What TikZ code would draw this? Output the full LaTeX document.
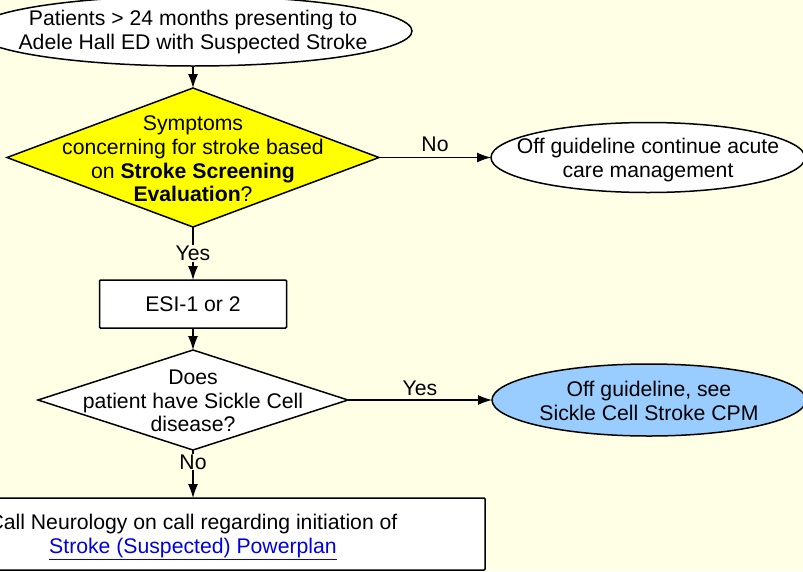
\documentclass[tikz,border=0pt]{standalone}
\usepackage{fontspec}
\setmainfont{Liberation Sans}
\usepackage{tikz}
\usetikzlibrary{positioning}
\usetikzlibrary{shapes.geometric}
\usetikzlibrary{arrows.meta}
\definecolor{paper}{RGB}{255,255,230}
\definecolor{alertYellow}{RGB}{255,255,0}
\definecolor{offBlue}{RGB}{153,204,255}
\definecolor{linkBlue}{RGB}{0,0,230}
\tikzstyle{txt} = [align=center, font=\fontsize{21.2}{23.7}\selectfont, inner sep=0pt]
\tikzstyle{terminal} = [ellipse, draw, line width=1.5pt, fill=white, outer sep=0pt]
\tikzstyle{decision} = [diamond, draw, line width=1.5pt, fill=white, outer sep=0pt]
\tikzstyle{process} = [rectangle, rounded corners=1pt, draw, line width=1.5pt, fill=white, outer sep=0pt, txt]
\tikzstyle{flow} = [-{Latex[length=14pt,width=10pt]}, line width=1.2pt]

\begin{document}
\begin{tikzpicture}[x=1pt, y=-1pt, node distance=22pt]
    \useasboundingbox (0,0) rectangle (803,571);
    \clip (0,0) rectangle (803,571);
    \fill[paper] (0,0) rectangle (803,571);
    \node (start) at (193,31) [terminal, minimum width=438pt, minimum height=70pt] {};
    \node (startTxt) at ([yshift=-1pt]start) [txt] {Patients > 24 months presenting to\\Adele Hall ED with Suspected Stroke};
    \node (screen) [below=of start, decision, fill=alertYellow, minimum width=372pt, minimum height=139pt] {};
    \node (screenTxt) at ([yshift=-1.5pt]screen) [txt] {Symptoms\\concerning for stroke based\\on \textbf{Stroke Screening}\\\textbf{Evaluation}?};
    \node (offCare) [right=112pt of screen, terminal, minimum width=314pt, minimum height=70pt] {};
    \node (offCareTxt) at ([yshift=-2.5pt]offCare) [txt] {Off guideline continue acute\\care management};
    \node (esi) [below=53pt of screen, process, minimum width=187pt, minimum height=48pt] {ESI-1 or 2};
    \node (sickle) [below=of esi, decision, minimum width=310pt, minimum height=100pt] {};
    \node (sickleTxt) at ([yshift=-1pt]sickle) [txt] {Does\\patient have Sickle Cell\\disease?};
    \node (offSickle) [right=144pt of sickle, terminal, fill=offBlue, minimum width=314pt, minimum height=72pt] {};
    \node (offSickleTxt) at ([yshift=-1pt]offSickle) [txt] {Off guideline, see\\Sickle Cell Stroke CPM};
    \node (neuro) [below=48pt of sickle, process, minimum width=584pt, minimum height=72pt] {};
    \node (neuroTxt) at ([yshift=-3pt]neuro) [txt] {Call Neurology on call regarding initiation of\\\textcolor{linkBlue}{\underline{Stroke (Suspected) Powerplan}}};
    \draw [flow] (start) -- (screen);
    \draw [flow] (screen) -- node[above=5pt, txt] {No} (offCare);
    \draw [flow] (screen) -- node[txt, fill=paper, inner sep=1pt] {Yes} (esi);
    \draw [flow] (esi) -- (sickle);
    \draw [flow] (sickle) -- node[above=4pt, txt] {Yes} (offSickle);
    \draw [flow] (sickle) -- node[pos=0.25, txt, fill=paper, inner sep=1pt] {No} (neuro);
\end{tikzpicture}
\end{document}
